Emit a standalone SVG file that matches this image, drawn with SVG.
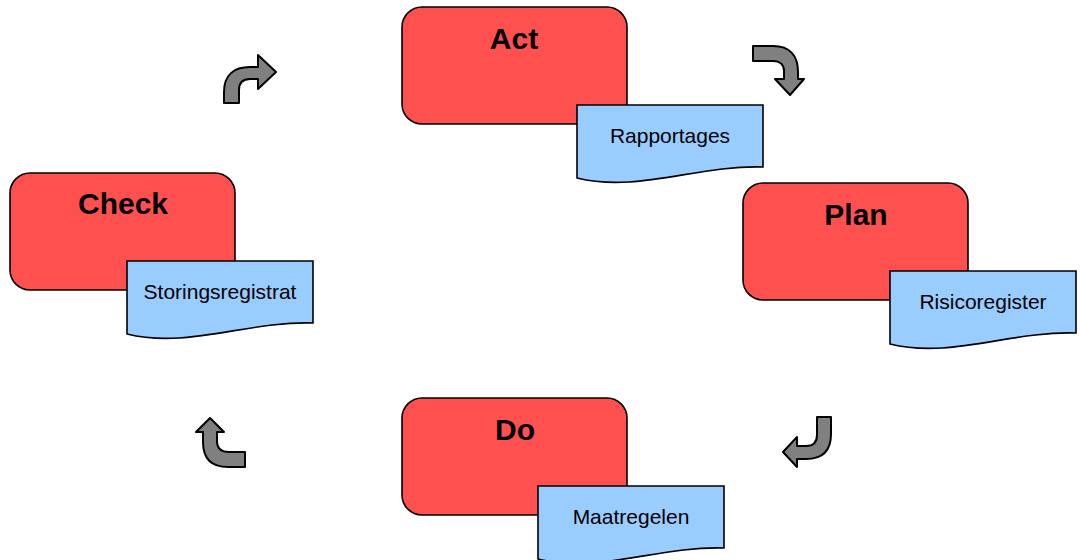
<svg xmlns="http://www.w3.org/2000/svg" width="1080" height="560" viewBox="0 0 1080 560">
  <defs>
    <style>
      .phase { fill: #FF5050; stroke: #000; stroke-width: 1.6; }
      .doc { fill: #99CCFF; stroke: #000; stroke-width: 1.6; }
      .title { font-family: "Liberation Sans", Arial, sans-serif; font-weight: bold; font-size: 30px; fill: #000; text-anchor: middle; }
      .label { font-family: "Liberation Sans", Arial, sans-serif; font-size: 21px; fill: #000; text-anchor: middle; }
      .turn { fill: #808080; stroke: #000; stroke-width: 2; stroke-linejoin: round; }
    </style>
    <!-- document shape with wavy bottom edge, 186 wide -->
    <path id="docShape" d="M0,0 H186 V62 C120,60 60,88 0,73 Z"/>
  </defs>

  <rect width="1080" height="560" fill="#fff"/>

  <!-- cycle arrows between phases -->
  <g id="connectors">
    <path class="turn" d="M224,103 L224,92 C224,75 234,67 250,67 L258,67 L258,55 L276,72 L258,89 L258,79 L250,79 C243,79 239,83 239,90 L239,103 Z"/>
    <path class="turn" d="M753,46 L773,46 C790,46 798,56 798,72 L798,79 L804,79 L790,95 L775,79 L784,79 L784,71 C784,65 780,61 773,61 L753,61 Z"/>
    <path class="turn" d="M817,417 L831,417 L831,434 C831,451 822,459 806,459 L797,459 L797,467 L783,452 L797,437 L797,446 L806,446 C813,446 817,442 817,435 Z"/>
    <path class="turn" d="M245,452 L229,452 C221,452 217,448 217,441 L217,432 L224,432 L210,418 L196,432 L203,432 L203,442 C203,459 212,467 228,467 L245,467 Z"/>
  </g>

  <g id="act">
    <rect class="phase" x="402" y="7" width="225" height="117" rx="20" ry="20"/>
    <text class="title" x="514" y="49">Act</text>
    <use href="#docShape" class="doc" x="577" y="105"/>
    <text class="label" x="670" y="143">Rapportages</text>
  </g>

  <g id="plan">
    <rect class="phase" x="743" y="183" width="225" height="117" rx="20" ry="20"/>
    <text class="title" x="856" y="225">Plan</text>
    <use href="#docShape" class="doc" x="890" y="271"/>
    <text class="label" x="983" y="309">Risicoregister</text>
  </g>

  <g id="do">
    <rect class="phase" x="402" y="398" width="225" height="117" rx="20" ry="20"/>
    <text class="title" x="515" y="440">Do</text>
    <use href="#docShape" class="doc" x="538" y="486"/>
    <text class="label" x="631" y="524">Maatregelen</text>
  </g>

  <g id="check">
    <rect class="phase" x="10" y="173" width="225" height="117" rx="20" ry="20"/>
    <text class="title" x="123" y="214">Check</text>
    <use href="#docShape" class="doc" x="127" y="261"/>
    <text class="label" x="220" y="299">Storingsregistrat</text>
  </g>
</svg>
